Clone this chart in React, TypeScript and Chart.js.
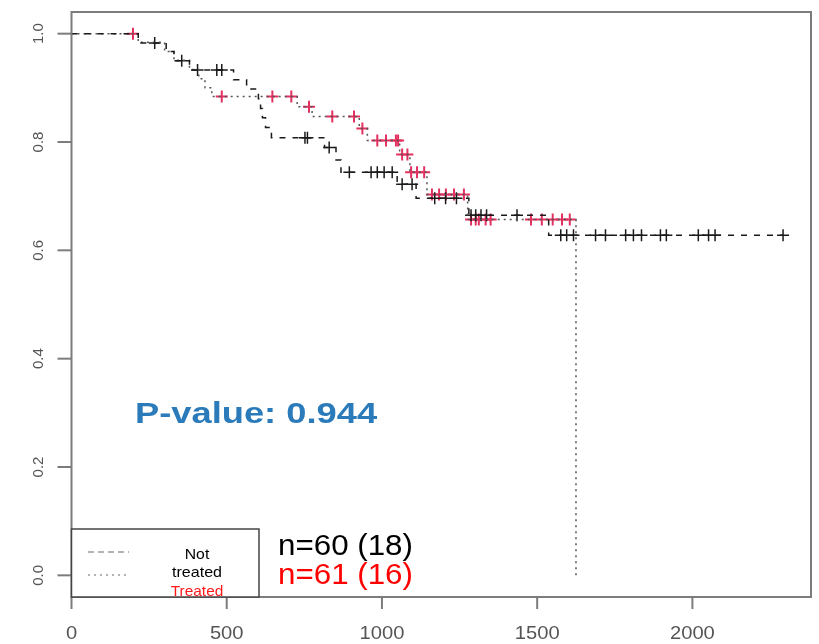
import React, { useEffect, useRef } from "react";
import { Chart, registerables } from "chart.js";
Chart.register(...registerables);

// ---------- data ----------
const xTicks = [0, 500, 1000, 1500, 2000];
const xTickLabels = ["0", "500", "1000", "1500", "2000"];
const yTicks = [0, 0.2, 0.4, 0.6, 0.8, 1.0];
const yTickLabels = ["0.0", "0.2", "0.4", "0.6", "0.8", "1.0"];

// Not treated: event times and survival after each event
const notTreatedTimes = [0, 215, 305, 330, 380, 522, 564, 602, 609, 615, 625, 644, 815, 852, 868, 1049, 1110, 1280, 1537, 2292];
const notTreatedSurv = [1.0, 0.983, 0.967, 0.95, 0.933, 0.915, 0.898, 0.88, 0.862, 0.845, 0.827, 0.808, 0.79, 0.767, 0.744, 0.722, 0.696, 0.665, 0.628, 0.628];
const notTreatedCensor = [268, 355, 406, 468, 484, 752, 760, 830, 895, 965, 985, 1007, 1033, 1065, 1097, 1170, 1205, 1240, 1287, 1302, 1319, 1337, 1435, 1576, 1595, 1617, 1688, 1720, 1785, 1810, 1836, 1897, 1916, 2019, 2052, 2073, 2292];

// Treated
const treatedTimes = [0, 215, 300, 330, 380, 410, 430, 452, 727, 775, 927, 953, 1057, 1090, 1145, 1276, 1625];
const treatedSurv = [1.0, 0.984, 0.967, 0.951, 0.934, 0.917, 0.9, 0.884, 0.865, 0.847, 0.825, 0.803, 0.777, 0.744, 0.703, 0.657, 0.0];
const treatedCensor = [198, 484, 647, 708, 765, 840, 910, 937, 985, 1013, 1045, 1052, 1065, 1082, 1094, 1113, 1136, 1161, 1184, 1206, 1232, 1264, 1287, 1302, 1312, 1334, 1350, 1480, 1515, 1550, 1580, 1605];

const groupLabels = ["Not treated", "Treated"];
const countLabels = ["n=60 (18)", "n=61 (16)"];
const pValueText = "P-value: 0.944";

// ---------- helpers ----------
function survAt(times: number[], surv: number[], t: number) {
  let s = surv[0];
  for (let i = 0; i < times.length; i++) {
    if (times[i] <= t) s = surv[i];
  }
  return s;
}
const curve = (times: number[], surv: number[]) => times.map((t, i) => ({ x: t, y: surv[i] }));
const marks = (cens: number[], times: number[], surv: number[]) =>
  cens.map((t) => ({ x: t, y: survAt(times, surv, t) }));

const FONT = "'Liberation Sans', Arial, sans-serif";

function drawText(
  ctx: CanvasRenderingContext2D,
  text: string,
  x: number,
  y: number,
  font: string,
  color: string,
  align: CanvasTextAlign,
  sx = 1
) {
  ctx.save();
  ctx.font = font;
  ctx.fillStyle = color;
  ctx.textAlign = align;
  ctx.textBaseline = "alphabetic";
  ctx.translate(x, y);
  ctx.scale(sx, 1);
  ctx.fillText(text, 0, 0);
  ctx.restore();
}

const overlay = {
  id: "overlay",
  afterDatasetsDraw(chart: any) {
    const { ctx, chartArea: a, scales } = chart;
    const xs = scales.x;
    const ys = scales.y;
    ctx.save();
    // plot box
    ctx.strokeStyle = "#7c7c7c";
    ctx.lineWidth = 2;
    ctx.setLineDash([]);
    ctx.strokeRect(a.left, a.top, a.right - a.left, a.bottom - a.top);

    // y axis ticks + rotated labels
    yTicks.forEach((v, i) => {
      const py = ys.getPixelForValue(v);
      ctx.beginPath();
      ctx.moveTo(a.left - 14, py);
      ctx.lineTo(a.left, py);
      ctx.stroke();
      ctx.save();
      ctx.translate(a.left - 33, py);
      ctx.rotate(-Math.PI / 2);
      ctx.font = `15px ${FONT}`;
      ctx.fillStyle = "#555";
      ctx.textAlign = "center";
      ctx.textBaseline = "middle";
      ctx.fillText(yTickLabels[i], 0, 0);
      ctx.restore();
    });
    // x axis ticks + labels
    xTicks.forEach((v, i) => {
      const px = xs.getPixelForValue(v);
      ctx.beginPath();
      ctx.moveTo(px, a.bottom);
      ctx.lineTo(px, a.bottom + 12);
      ctx.stroke();
      drawText(ctx, xTickLabels[i], px, a.bottom + 42, `18px ${FONT}`, "#555", "center", 1.12);
    });

    // legend box
    const lx0 = a.left, lx1 = 259, ly0 = 529, ly1 = a.bottom;
    ctx.fillStyle = "#fff";
    ctx.fillRect(lx0, ly0, lx1 - lx0, ly1 - ly0);
    ctx.strokeStyle = "#444";
    ctx.lineWidth = 1.5;
    ctx.strokeRect(lx0, ly0, lx1 - lx0, ly1 - ly0);
    ctx.lineWidth = 1.5;
    ctx.strokeStyle = "#9a9a9a";
    ctx.setLineDash([6, 4]);
    ctx.beginPath();
    ctx.moveTo(88, 552);
    ctx.lineTo(129, 552);
    ctx.stroke();
    ctx.setLineDash([2, 4]);
    ctx.beginPath();
    ctx.moveTo(88, 575);
    ctx.lineTo(129, 575);
    ctx.stroke();
    ctx.setLineDash([]);
    const words = groupLabels[0].split(" ");
    drawText(ctx, words[0], 197, 559, `15px ${FONT}`, "#000", "center", 1.05);
    drawText(ctx, words[1], 197, 577, `15px ${FONT}`, "#000", "center", 1.07);
    drawText(ctx, groupLabels[1], 197, 596, `15px ${FONT}`, "#ff1a1a", "center", 1.03);

    // counts
    drawText(ctx, countLabels[0], 278, 555, `29px ${FONT}`, "#000", "left", 1.08);
    drawText(ctx, countLabels[1], 278, 584, `29px ${FONT}`, "#ff0000", "left", 1.08);

    // p-value
    drawText(ctx, pValueText, 135, 423, `bold 30px ${FONT}`, "#2b7bba", "left", 1.21);
    ctx.restore();
  },
};

export default function App() {
  const ref = useRef<HTMLCanvasElement | null>(null);
  useEffect(() => {
    if (!ref.current) return;
    const chart = new Chart(ref.current, {
      type: "line",
      data: {
        datasets: [
          {
            label: groupLabels[0],
            data: curve(notTreatedTimes, notTreatedSurv),
            borderColor: "#1a1a1a",
            borderWidth: 1.5,
            borderDash: [6, 7],
            stepped: "before",
            pointRadius: 0,
            fill: false,
          },
          {
            label: groupLabels[1],
            data: curve(treatedTimes, treatedSurv),
            borderColor: "#555",
            borderWidth: 1.5,
            borderDash: [2, 4],
            stepped: "before",
            pointRadius: 0,
            fill: false,
          },
          {
            label: groupLabels[0] + " censored",
            data: marks(notTreatedCensor, notTreatedTimes, notTreatedSurv),
            showLine: false,
            pointStyle: "cross",
            pointRadius: 6,
            pointBorderWidth: 1.5,
            pointBorderColor: "#1a1a1a",
            borderColor: "#1a1a1a",
          },
          {
            label: groupLabels[1] + " censored",
            data: marks(treatedCensor, treatedTimes, treatedSurv),
            showLine: false,
            pointStyle: "cross",
            pointRadius: 6,
            pointBorderWidth: 2,
            pointBorderColor: "#e3305f",
            borderColor: "#e3305f",
          },
        ],
      },
      options: {
        responsive: false,
        animation: false,
        layout: { padding: { left: 71.5, top: 12, right: 6, bottom: 47 } },
        plugins: { legend: { display: false }, tooltip: { enabled: false } },
        scales: {
          x: { type: "linear", min: 0, max: 2382, display: false },
          y: { type: "linear", min: -0.04, max: 1.04, display: false },
        },
      },
      plugins: [overlay],
    });
    return () => chart.destroy();
  }, []);
  return (
    <div style={{ position: "absolute", left: 0, top: 0, width: 819, height: 644, background: "#fff" }}>
      <canvas ref={ref} width={819} height={644} />
    </div>
  );
}
